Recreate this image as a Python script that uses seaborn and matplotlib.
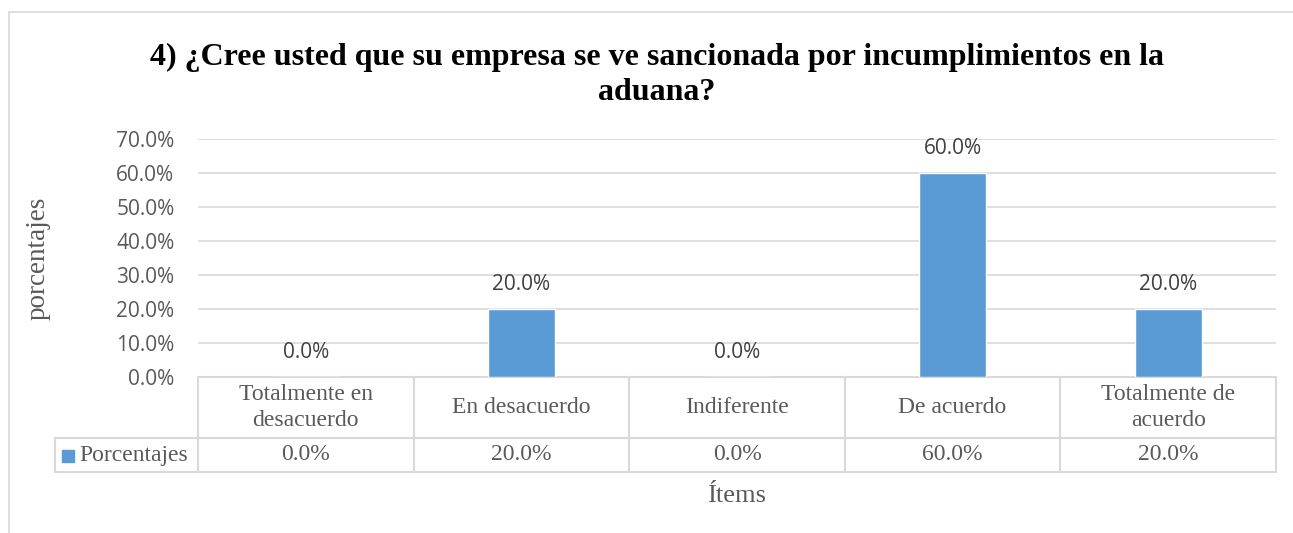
import matplotlib
matplotlib.use("Agg")
import matplotlib.pyplot as plt
import seaborn as sns
import pandas as pd
from matplotlib.ticker import PercentFormatter
from matplotlib.patches import Rectangle
from matplotlib.lines import Line2D

categorias = ["Totalmente en\ndesacuerdo", "En desacuerdo", "Indiferente", "De acuerdo", "Totalmente de\nacuerdo"]
porcentajes = [0.0, 0.20, 0.0, 0.60, 0.20]
serie = "Porcentajes"
titulo = "4) ¿Cree usted que su empresa se ve sancionada por incumplimientos en la\naduana?"

azul = "#5B9BD5"
gris_linea = "#D9D9D9"
gris_texto = "#595959"

sns.set_theme(style="white")
plt.rcParams["font.family"] = ["Open Sans", "DejaVu Sans"]

df = pd.DataFrame({"item": categorias, "valor": porcentajes})

W, H = 1293, 533
fig = plt.figure(figsize=(W / 100, H / 100), dpi=100)

# marco exterior del gráfico
fig.patches.append(Rectangle((9 / W, -0.1), 2, 1.1 - 12 / H, transform=fig.transFigure,
                             fill=False, edgecolor=gris_linea, linewidth=1.2))

x0, x1, y0, y1 = 198, 1276, 139, 377
ax = fig.add_axes([x0 / W, 1 - y1 / H, (x1 - x0) / W, (y1 - y0) / H])

sns.barplot(data=df, x="item", y="valor", color=azul, width=0.31, ax=ax, zorder=3,
            saturation=1)
ax.set_ylim(0, 0.7)
ax.set_xlim(-0.5, len(categorias) - 0.5)
ax.set_yticks([i / 10 for i in range(8)])
ax.yaxis.set_major_formatter(PercentFormatter(1, decimals=1))
ax.grid(axis="y", color=gris_linea, linewidth=1.2, zorder=0)
for s in ax.spines.values():
    s.set_visible(False)
ax.set_xticks([])
ax.set_xlabel("")
ax.set_ylabel("")
ax.tick_params(axis="y", labelsize=15, labelcolor=gris_texto, length=0, pad=17)

for i, v in enumerate(porcentajes):
    ax.annotate(f"{v * 100:.1f}%", (i, v), xytext=(0, 18), textcoords="offset points",
                ha="center", va="center", fontsize=15, color="#404040")

# tabla de datos bajo el eje
serif = ["Liberation Serif", "DejaVu Serif"]
fila1 = -(438 - y1) / (y1 - y0)
fila2 = -(472 - y1) / (y1 - y0)
izq = (55 - x0) / (x1 - x0)
n = len(categorias)
trans = ax.get_xaxis_transform()  # x en datos, y en ejes
ta = ax.transAxes
lk = dict(color=gris_linea, linewidth=1.5, clip_on=False)
ax.add_line(Line2D([-0.5, n - 0.5], [0, 0], transform=trans, **lk))
ax.add_line(Line2D([izq, 1], [fila1, fila1], transform=ta, **lk))
ax.add_line(Line2D([izq, 1], [fila2, fila2], transform=ta, **lk))
ax.add_line(Line2D([izq, izq], [fila1, fila2], transform=ta, **lk))
for k in range(n + 1):
    ax.add_line(Line2D([k - 0.5, k - 0.5], [0, fila2], transform=trans, **lk))

for i, (c, v) in enumerate(zip(categorias, porcentajes)):
    ax.text(i, fila1 / 2, c, transform=trans, ha="center", va="center", fontsize=17,
            family=serif, color=gris_texto, linespacing=1.28)
    ax.text(i, (fila1 + fila2) / 2, f"{v * 100:.1f}%", transform=trans, ha="center",
            va="center", fontsize=17, family=serif, color=gris_texto)

fig.patches.append(Rectangle((62 / W, 1 - 462 / H), 12 / W, 12 / H, transform=fig.transFigure,
                             color=azul))
fig.text(79 / W, 1 - 455 / H, serie, ha="left", va="center", fontsize=17, family=serif,
         color=gris_texto)

fig.text(737 / W, 1 - 496 / H, "Ítems", ha="center", va="center", fontsize=19,
         family=serif, color=gris_texto)
fig.text(38 / W, 1 - 258 / H, "porcentajes", ha="center", va="center", rotation=90,
         fontsize=19.5, family=serif, color=gris_texto)
fig.text(657 / W, 1 - 75 / H, titulo, ha="center", va="center", fontsize=23,
         family=serif, weight="bold", color="black", linespacing=1.3)

fig.savefig("out.png", dpi=100)
